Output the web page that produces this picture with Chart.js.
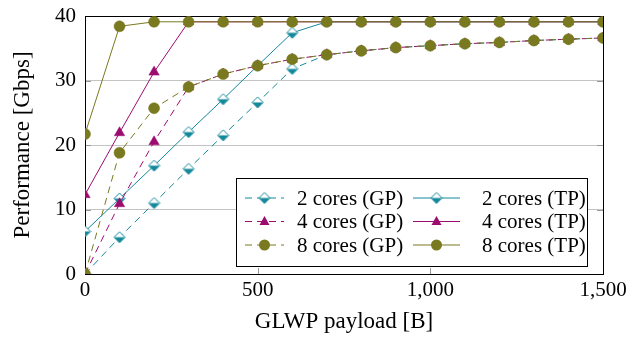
<!DOCTYPE html>
<html>
<head>
<meta charset="utf-8">
<script src="https://cdn.jsdelivr.net/npm/chart.js@4"></script>
<style>
  html, body { margin: 0; padding: 0; background: #fff; }
  #wrap { width: 635px; height: 343px; }
</style>
</head>
<body>
<div id="wrap"><canvas id="myChart" width="635" height="343"></canvas></div>
<script>
// Payload sizes on the x axis
const payload = [0, 100, 200, 300, 400, 500, 600, 700, 800, 900, 1000, 1100, 1200, 1300, 1400, 1500];

// Series values
const cores2GP = [0, 5.7, 11, 16.3, 21.5, 26.6, 31.8, 34, 34.6, 35.1, 35.4, 35.7, 35.9, 36.2, 36.4, 36.6];
const cores2TP = [6.6, 11.7, 16.8, 22, 27.1, 32.3, 37.4, 39.1, 39.1, 39.1, 39.1, 39.1, 39.1, 39.1, 39.1, 39.1];
const cores4GP = [0, 10.9, 20.5, 29, 31, 32.3, 33.3, 34, 34.6, 35.1, 35.4, 35.7, 35.9, 36.2, 36.4, 36.6];
const cores4TP = [12.3, 21.9, 31.3, 39.1, 39.1, 39.1, 39.1, 39.1, 39.1, 39.1, 39.1, 39.1, 39.1, 39.1, 39.1, 39.1];
const cores8GP = [0, 18.8, 25.7, 29, 31, 32.3, 33.3, 34, 34.6, 35.1, 35.4, 35.7, 35.9, 36.2, 36.4, 36.6];
const cores8TP = [21.7, 38.4, 39.1, 39.1, 39.1, 39.1, 39.1, 39.1, 39.1, 39.1, 39.1, 39.1, 39.1, 39.1, 39.1, 39.1];

const yTicks = [0, 10, 20, 30, 40];
const xTicks = [0, 500, 1000, 1500];

const teal = '#14889b';
const purple = '#9c0c6f';
const olive = '#79791f';
const serif = '"Liberation Serif", "DejaVu Serif", serif';

// Half filled diamond marker (top white, bottom teal)
function makeDiamond() {
  const c = document.createElement('canvas');
  c.width = 13; c.height = 13;
  const g = c.getContext('2d');
  const path = () => {
    g.beginPath();
    g.moveTo(6.5, 1); g.lineTo(12, 6.5); g.lineTo(6.5, 12); g.lineTo(1, 6.5); g.closePath();
  };
  path();
  g.fillStyle = '#fff';
  g.fill();
  g.beginPath();
  g.moveTo(1, 6.5); g.lineTo(12, 6.5); g.lineTo(6.5, 12); g.closePath();
  g.fillStyle = teal;
  g.fill();
  path();
  g.strokeStyle = teal;
  g.lineWidth = 1;
  g.stroke();
  return c;
}
const diamond = makeDiamond();

function toPoints(values) {
  return values.map((v, i) => ({ x: payload[i], y: v }));
}

function series(label, values, color, style, dashed, order) {
  return {
    label: label,
    data: toPoints(values),
    borderColor: color,
    backgroundColor: color,
    borderWidth: 1,
    borderDash: dashed ? [7, 5] : [],
    pointStyle: style,
    pointRadius: style === 'circle' ? 5.5 : 6,
    pointBorderWidth: 0.5,
    pointBorderColor: color,
    pointBackgroundColor: color,
    tension: 0,
    order: order,
    dashed: dashed
  };
}

// Frame around plot and small inward ticks
const framePlugin = {
  id: 'frame',
  beforeDatasetsDraw(chart) {
    const { ctx, chartArea: a, scales } = chart;
    ctx.save();
    ctx.strokeStyle = '#999';
    ctx.lineWidth = 1;
    xTicks.forEach(v => {
      const x = Math.round(scales.x.getPixelForValue(v)) + 0.5;
      ctx.beginPath();
      ctx.moveTo(x, a.bottom); ctx.lineTo(x, a.bottom - 6);
      ctx.moveTo(x, a.top); ctx.lineTo(x, a.top + 6);
      ctx.stroke();
    });
    yTicks.forEach(v => {
      const y = Math.round(scales.y.getPixelForValue(v)) + 0.5;
      ctx.beginPath();
      ctx.moveTo(a.left, y); ctx.lineTo(a.left + 6, y);
      ctx.moveTo(a.right, y); ctx.lineTo(a.right - 6, y);
      ctx.stroke();
    });
    ctx.strokeStyle = '#000';
    ctx.strokeRect(Math.round(a.left) + 0.5, Math.round(a.top) + 0.5,
      Math.round(a.right - a.left), Math.round(a.bottom - a.top));
    ctx.restore();
  }
};

// Legend drawn inside the plot, two columns
const legendPlugin = {
  id: 'innerLegend',
  afterDatasetsDraw(chart) {
    const ctx = chart.ctx;
    const box = { x: 236.5, y: 178.5, w: 351, h: 88 };
    ctx.save();
    ctx.fillStyle = '#fff';
    ctx.fillRect(box.x, box.y, box.w, box.h);
    ctx.strokeStyle = '#000';
    ctx.lineWidth = 1;
    ctx.strokeRect(box.x, box.y, box.w, box.h);
    const cols = [{ x0: 245, x1: 284, tx: 297 }, { x0: 413, x1: 460, tx: 482 }];
    const rows = [198, 221.5, 245];
    ctx.font = '21px ' + serif;
    ctx.textBaseline = 'middle';
    chart.data.datasets.forEach((ds, i) => {
      const col = cols[ds.dashed ? 0 : 1];
      const y = rows[Math.floor(i / 2)];
      ctx.strokeStyle = ds.borderColor;
      ctx.lineWidth = 1;
      ctx.setLineDash(ds.dashed ? [7, 5] : []);
      ctx.beginPath();
      ctx.moveTo(col.x0, y); ctx.lineTo(col.x1, y);
      ctx.stroke();
      ctx.setLineDash([]);
      const mx = (col.x0 + col.x1) / 2;
      ctx.fillStyle = ds.borderColor;
      if (ds.pointStyle === diamond) {
        ctx.drawImage(diamond, mx - 6.5, y - 6.5);
      } else if (ds.pointStyle === 'circle') {
        ctx.beginPath();
        ctx.arc(mx, y, 5.5, 0, Math.PI * 2);
        ctx.fill();
      } else {
        ctx.beginPath();
        ctx.moveTo(mx, y - 5.5); ctx.lineTo(mx + 5, y + 3.5); ctx.lineTo(mx - 5, y + 3.5); ctx.closePath();
        ctx.fill();
      }
      ctx.fillStyle = '#000';
      ctx.fillText(ds.label, col.tx, y + 1);
    });
    ctx.restore();
  }
};

function renderChart() {
  const ctx = document.getElementById('myChart').getContext('2d');
  new Chart(ctx, {
    type: 'line',
    data: {
      datasets: [
        series('2 cores (GP)', cores2GP, teal, diamond, true, 6),
        series('2 cores (TP)', cores2TP, teal, diamond, false, 5),
        series('4 cores (GP)', cores4GP, purple, 'triangle', true, 4),
        series('4 cores (TP)', cores4TP, purple, 'triangle', false, 3),
        series('8 cores (GP)', cores8GP, olive, 'circle', true, 2),
        series('8 cores (TP)', cores8TP, olive, 'circle', false, 1)
      ]
    },
    options: {
      responsive: false,
      animation: false,
      layout: { padding: { top: 16, right: 32, left: 0, bottom: 0 } },
      scales: {
        x: {
          type: 'linear',
          min: 0,
          max: 1500,
          afterBuildTicks: scale => { scale.ticks = xTicks.map(v => ({ value: v })); },
          afterFit: scale => {
            scale.height = 69;
            scale.paddingLeft = 0;
            scale.paddingRight = 0;
          },
          grid: { display: false, drawTicks: false },
          border: { display: false },
          ticks: {
            padding: 4,
            color: '#000',
            font: { family: serif, size: 21 },
            callback: v => v.toLocaleString('en-US')
          },
          title: {
            display: true,
            text: 'GLWP payload [B]',
            color: '#000',
            font: { family: serif, size: 23 },
            padding: { top: 4, bottom: 7 }
          }
        },
        y: {
          min: 0,
          max: 40,
          afterBuildTicks: scale => { scale.ticks = yTicks.map(v => ({ value: v })); },
          afterFit: scale => {
            scale.width = 85;
            scale.paddingTop = 0;
            scale.paddingBottom = 0;
          },
          grid: {
            color: ctx => (ctx.tick.value === 0 || ctx.tick.value === 40) ? 'rgba(0,0,0,0)' : '#c4c4c4',
            drawTicks: false
          },
          border: { display: false },
          ticks: {
            padding: 9,
            color: '#000',
            font: { family: serif, size: 21 }
          },
          title: {
            display: true,
            text: 'Performance [Gbps]',
            color: '#000',
            font: { family: serif, size: 23 },
            padding: { top: 9, bottom: 6 }
          }
        }
      },
      plugins: {
        legend: { display: false },
        tooltip: { enabled: false }
      }
    },
    plugins: [framePlugin, legendPlugin]
  });
}

document.addEventListener('DOMContentLoaded', renderChart);
</script>
</body>
</html>
